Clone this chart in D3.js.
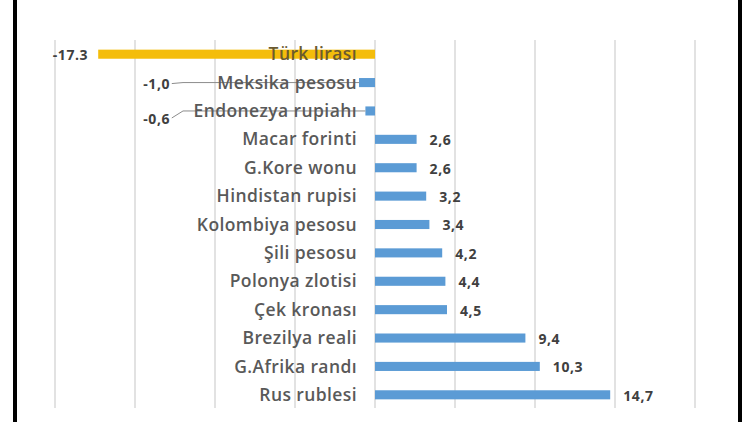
<!DOCTYPE html>
<html>
<head>
<meta charset="utf-8">
<script src="https://cdn.jsdelivr.net/npm/d3@7"></script>
<style>
  body { margin: 0; background: #fff; }
  svg { display: block; }
</style>
</head>
<body>
<div class="chart"></div>
<script>
var categories = ['Türk lirası', 'Meksika pesosu', 'Endonezya rupiahı', 'Macar forinti', 'G.Kore wonu',
  'Hindistan rupisi', 'Kolombiya pesosu', 'Şili pesosu', 'Polonya zlotisi', 'Çek kronası',
  'Brezilya reali', 'G.Afrika randı', 'Rus rublesi'];
var values = [-17.3, -1.0, -0.6, 2.6, 2.6, 3.2, 3.4, 4.2, 4.4, 4.5, 9.4, 10.3, 14.7];
var valueLabels = ['-17.3', '-1,0', '-0,6', '2,6', '2,6', '3,2', '3,4', '4,2', '4,4', '4,5', '9,4', '10,3', '14,7'];
var gridTicks = [-20, -15, -10, -5, 0, 5, 10, 15, 20];

var width = 750, height = 422;
var svg = d3.select('.chart').append('svg').attr('width', width).attr('height', height);

// frame lines left and right
svg.append('rect').attr('x', 13).attr('y', 0).attr('width', 4).attr('height', height).attr('fill', '#000');
svg.append('rect').attr('x', 738).attr('y', 0).attr('width', 4).attr('height', height).attr('fill', '#000');

var x = d3.scaleLinear().domain([-20, 20]).range([55, 695]);
var y = d3.scaleBand().domain(categories).range([40, 409]).paddingInner(0.68).paddingOuter(0.34);

// gridlines
svg.selectAll('line.grid').data(gridTicks).enter().append('line')
  .attr('class', 'grid')
  .attr('x1', function (d) { return x(d); })
  .attr('x2', function (d) { return x(d); })
  .attr('y1', 40).attr('y2', 408)
  .attr('stroke', '#d9d9d9').attr('stroke-width', 1.5);

// bars
svg.selectAll('rect.bar').data(values).enter().append('rect')
  .attr('class', 'bar')
  .attr('x', function (d) { return x(Math.min(0, d)); })
  .attr('y', function (d, i) { return y(categories[i]); })
  .attr('width', function (d) { return Math.abs(x(d) - x(0)); })
  .attr('height', y.bandwidth())
  .attr('fill', function (d, i) { return i === 0 ? '#f4bd0b' : '#5b9bd5'; });

var mid = function (i) { return y(categories[i]) + y.bandwidth() / 2; };

// leader lines for the small negative values (labels moved away from the bars)
var leaders = [{ i: 1, dy: 1 }, { i: 2, dy: 7 }];
leaders.forEach(function (l) {
  var yb = mid(l.i);
  svg.append('polyline')
    .attr('points', [[x(-12.7), yb + l.dy], [x(-12.0), yb], [x(values[l.i]), yb]].map(function (p) { return p.join(','); }).join(' '))
    .attr('fill', 'none').attr('stroke', '#8c8c8c').attr('stroke-width', 1);
});

// category labels
svg.selectAll('text.cat').data(categories).enter().append('text')
  .attr('class', 'cat')
  .attr('x', 357)
  .attr('y', function (d, i) { return mid(i); })
  .attr('dy', '0.35em')
  .attr('text-anchor', 'end')
  .style('font-family', '"Open Sans", Lato, sans-serif')
  .style('font-size', '17.5px')
  .style('font-weight', '600')
  .style('letter-spacing', '0.4px')
  .style('fill', function (d, i) { return i === 0 ? '#6b5a2e' : '#595959'; })
  .text(function (d) { return d; });

// value labels
svg.selectAll('text.val').data(values).enter().append('text')
  .attr('class', 'val')
  .attr('x', function (d, i) {
    if (d >= 0) return x(d) + 13;
    if (i === 0) return x(d) - 10;
    return x(-12.8);
  })
  .attr('y', function (d, i) { return mid(i) + (i === 1 ? 2 : i === 2 ? 8 : 1); })
  .attr('dy', '0.35em')
  .attr('text-anchor', function (d) { return d >= 0 ? 'start' : 'end'; })
  .style('font-family', '"Open Sans", Lato, sans-serif')
  .style('font-size', '14px')
  .style('font-weight', 'bold')
  .style('letter-spacing', '0.6px')
  .style('fill', '#404040')
  .text(function (d, i) { return valueLabels[i]; });
</script>
</body>
</html>
